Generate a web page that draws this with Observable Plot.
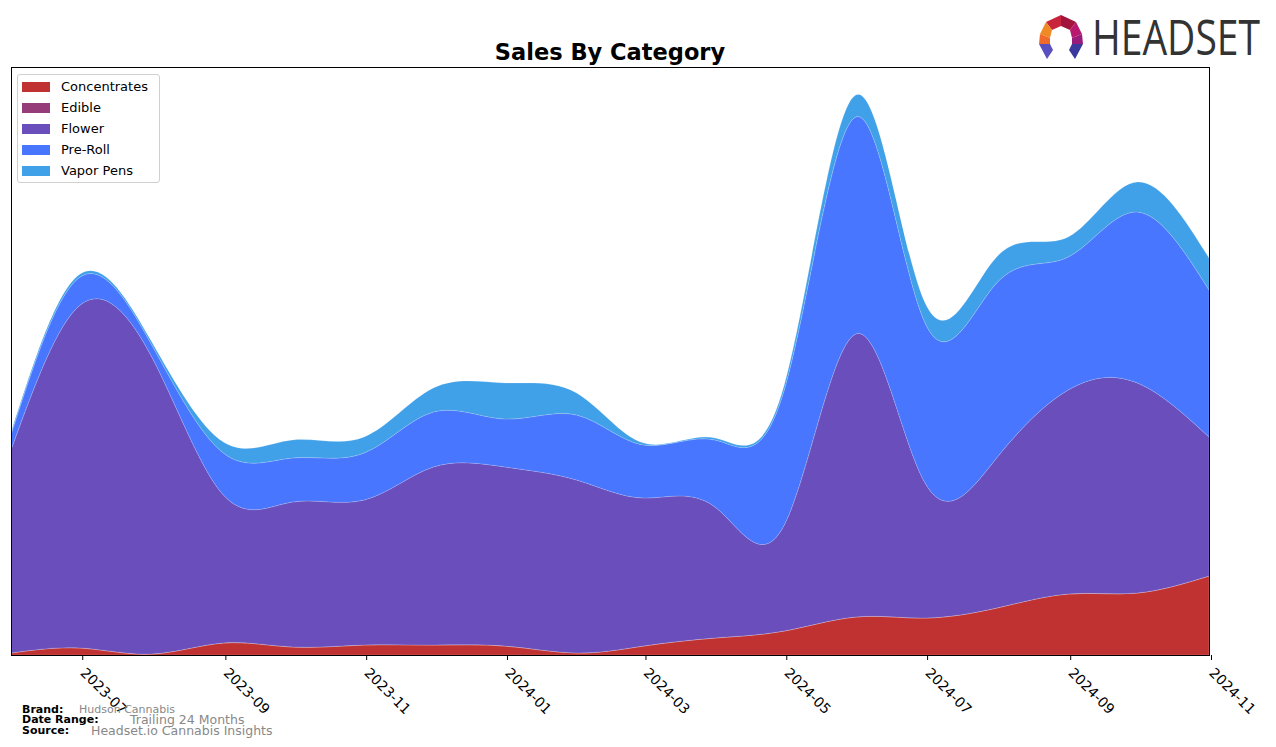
<!DOCTYPE html>
<html>
<head>
<meta charset="utf-8">
<script src="https://cdn.jsdelivr.net/npm/d3@7"></script>
<script src="https://cdn.jsdelivr.net/npm/@observablehq/plot@0.6"></script>
<style>
  html, body { margin: 0; padding: 0; background: #fff; }
  #wrap { position: relative; width: 1276px; height: 747px; overflow: hidden; font-family: "DejaVu Sans", sans-serif; }
  #chart { position: absolute; left: 0; top: 0; }
  #title { position: absolute; left: 0; width: 1220px; top: 39px; text-align: center; font-weight: bold; font-size: 22.5px; line-height: 26px; color: #000; }
  #legend { position: absolute; left: 17px; top: 74px; width: 141px; height: 107px; border: 1px solid #d0d0d0; border-radius: 3px; background: rgba(255,255,255,0.85); }
  .li { position: absolute; left: 4px; height: 21px; font-size: 13px; color: #000; white-space: nowrap; }
  .sw { position: absolute; left: 0; top: 4px; width: 28px; height: 10px; }
  .lt { position: absolute; left: 39px; top: 0px; line-height: 18px; }
  .ft { position: absolute; white-space: nowrap; line-height: 10px; }
  .fl { font-weight: bold; font-size: 11px; color: #000; left: 22px; }
  .fv { color: #888; }
</style>
</head>
<body>
<div id="wrap">
  <div id="chart"></div>
  <div id="title">Sales By Category</div>
  <div id="legend"></div>
  <svg id="logo" width="246" height="70" style="position:absolute;left:1030px;top:0px" viewBox="1030 0 246 70">
    <polygon points="1046,22 1061,15 1061,26 1052,30" fill="#c8243c"/>
    <polygon points="1061,15 1076,22 1070,30 1061,26" fill="#a3143c"/>
    <polygon points="1040,34 1046,22 1052,30 1050,38" fill="#f08a24"/>
    <polygon points="1040,34 1050,38 1050,44 1039,44" fill="#f26a2a"/>
    <polygon points="1076,22 1082,34 1072,38 1070,30" fill="#b8186e"/>
    <polygon points="1082,34 1083,44 1072,44 1072,38" fill="#9a1c7a"/>
    <polygon points="1039,44 1050,44 1053,50 1047,59" fill="#5a4fc0"/>
    <polygon points="1072,44 1083,44 1075,59 1069,50" fill="#3a3a9c"/>
    <g transform="translate(1092,55) scale(1,1.3)">
      <text x="0" y="0" font-family="Open Sans, DejaVu Sans Condensed, sans-serif" font-size="38" fill="#333" textLength="168" lengthAdjust="spacingAndGlyphs">HEADSET</text>
    </g>
  </svg>
  <div class="ft fl" style="top:705px">Brand:</div>
  <div class="ft fl" style="top:715px">Date Range:</div>
  <div class="ft fl" style="top:726px">Source:</div>
  <div class="ft fv" style="left:79px;top:705px;font-size:11px">Hudson Cannabis</div>
  <div class="ft fv" style="left:130px;top:715px;font-size:12.5px">Trailing 24 Months</div>
  <div class="ft fv" style="left:91px;top:726px;font-size:12.5px">Headset.io Cannabis Insights</div>
</div>
<script>
const months = ["2023-06","2023-07","2023-08","2023-09","2023-10","2023-11","2023-12","2024-01","2024-02","2024-03","2024-04","2024-05","2024-06","2024-07","2024-08","2024-09","2024-10","2024-11"];
const categories = ["Concentrates","Edible","Flower","Pre-Roll","Vapor Pens"];
const colors = ["#c03232","#963c78","#6a4fbc","#4876ff","#40a0e8"];
const concentrates = [2,7,1,12,8,10,10,9,2,9,17,24,38,37,47,61,62,79];
const edible = [0,0,0,0,0,0,0,0,0,0,0,0,0,0,0,0,0,0];
const flower = [203,343,297,148,145,145,178,179,173,148,131,106,283,135,150,204,210,139];
const preRoll = [15,28,12,42,44,47,55,48,65,53,67,135,217,160,175,133,171,147];
const vaporPens = [2,3,3,11,18,16,24,36,22,2,2,5,22,20,26,20,30,32];
const tickMonths = ["2023-07","2023-09","2023-11","2024-01","2024-03","2024-05","2024-07","2024-09","2024-11"];

const series = [concentrates, edible, flower, preRoll, vaporPens];
const parse = d3.utcParse("%Y-%m");
const rows = [];
categories.forEach((c, i) => months.forEach((m, j) => rows.push({date: parse(m), category: c, value: series[i][j]})));

const chart = Plot.plot({
  width: 1276,
  height: 747,
  marginLeft: 11,
  marginRight: 67,
  marginTop: 67,
  marginBottom: 92,
  style: {fontFamily: "DejaVu Sans, sans-serif", fontSize: "13px", background: "#fff", color: "#000"},
  x: {type: "utc", domain: [parse(months[0]), parse(months[months.length - 1])]},
  y: {domain: [0, 588], axis: null},
  color: {domain: categories, range: colors},
  marks: [
    Plot.areaY(rows, {x: "date", y: "value", z: "category", fill: "category", order: categories, curve: "natural", stroke: "white", strokeOpacity: 0.25, strokeWidth: 0.6}),
    Plot.axisX({ticks: tickMonths.map(parse), tickFormat: d3.utcFormat("%Y-%m"), tickRotate: 45, tickSize: 5, tickPadding: 10, fontSize: 14, dx: 2, label: null}),
    Plot.frame({stroke: "#000", strokeWidth: 1})
  ]
});
document.getElementById("chart").appendChild(chart);

const lg = document.getElementById("legend");
categories.forEach((c, i) => {
  const d = document.createElement("div");
  d.className = "li";
  d.style.top = (3 + i * 21) + "px";
  d.innerHTML = `<div class="sw" style="background:${colors[i]}"></div><div class="lt">${c}</div>`;
  lg.appendChild(d);
});
</script>
</body>
</html>
